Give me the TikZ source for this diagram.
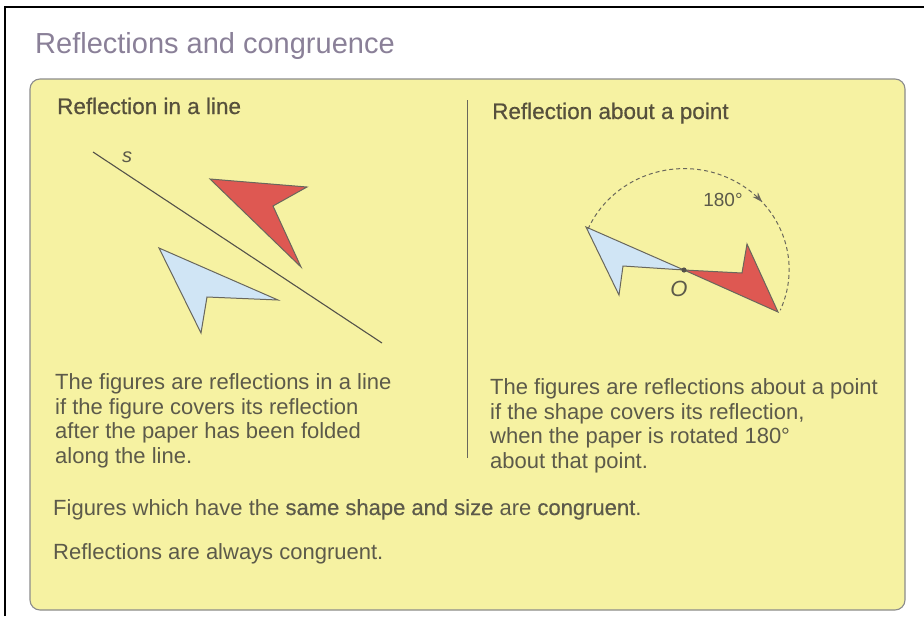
\documentclass[tikz,border=0pt]{standalone}
\usepackage{fontspec}
\setmainfont{Liberation Sans}
\newfontfamily\medfont[FakeBold=0.5]{Liberation Sans}
\usetikzlibrary{arrows.meta,decorations.markings}

\definecolor{panelyellow}{RGB}{246,242,162}
\definecolor{titlegrey}{RGB}{138,128,152}
\definecolor{headbrown}{RGB}{86,80,60}
\definecolor{textgrey}{RGB}{92,90,74}
\definecolor{figred}{RGB}{222,88,82}
\definecolor{figblue}{RGB}{208,229,245}
\definecolor{edgegrey}{RGB}{105,103,92}

\begin{document}
\begin{tikzpicture}[x=1pt,y=-1pt,
    panel/.style={draw=black!45,fill=panelyellow,rounded corners=10pt,line width=1.1pt},
    heading/.style={anchor=base west,inner sep=0pt,text=headbrown,
                    font=\medfont\fontsize{22.5}{26}\selectfont},
    body/.style={anchor=base west,inner sep=0pt,text=textgrey,align=left,
                 font=\fontsize{22}{24.5}\selectfont},
    fig/.style={draw=edgegrey,line width=1pt,line join=miter},
    mirror/.style={draw=edgegrey!80!black,line width=1.1pt},
    turn/.style={draw=edgegrey,line width=1pt,dash pattern=on 4pt off 3pt,
                 decoration={markings,mark=at position 0.64 with
                   {\arrow[solid]{Stealth[length=10pt,width=7pt]}}},
                 postaction=decorate}
  ]
    \useasboundingbox (0,0) rectangle (924,616);
    \fill[white] (0,0) rectangle (924,616);

    % frame and panel
    \draw[line width=2.2pt] (5,616) -- (5,7) -- (924,7);
    \draw[panel] (30,79) rectangle (905,610);
    \draw[edgegrey,line width=1pt] (467,100) -- (467,458);

    \node[anchor=base west,inner sep=0pt,text=titlegrey,
          font=\fontsize{29}{32}\selectfont] (title) at (35,53)
      {Reflections and congruence};

    \node[heading] (lefthead) at (57,114) {Reflection in a line};
    \node[heading] (righthead) at (492,119) {Reflection about a point};

    % reflection in a line
    \coordinate (s1) at (93,152);
    \coordinate (s2) at (382,343);
    \draw[mirror] (s1) -- (s2);
    \node[text=textgrey,font=\itshape\fontsize{20}{22}\selectfont] (slabel) at (127,157) {s};

    \draw[fig,fill=figred] (210,179) -- (307,187) -- (273,206) -- (301,267) -- cycle;
    \draw[fig,fill=figblue] (159,248) -- (278,300) -- (207,297) -- (201,333) -- cycle;

    % reflection about a point
    \coordinate (O) at (684,270);
    \draw[fig,fill=figblue] (586,227) -- (O) -- (623,266) -- (619,295) -- cycle;
    \draw[fig,fill=figred] (778,312) -- (O) -- (742,273) -- (747,244) -- cycle;
    \fill[edgegrey!80!black] (O) circle (2.6pt);
    \node[text=textgrey,font=\itshape\fontsize{22}{24}\selectfont] (olabel) at (679,289) {O};

    \coordinate (arcstart) at (588,229);
    \draw[turn] (arcstart) arc[start angle=203.7,end angle=383.7,x radius=105,y radius=101];
    \node[text=textgrey,font=\fontsize{19}{21}\selectfont] (angle) at (723,200) {180°};

    % explanations (base = last line)
    \node[body] (lefttext) at (55,463)
      {The figures are reflections in a line\\
       if the figure covers its reflection\\
       after the paper has been folded\\
       along the line.};
    \node[body] (righttext) at (490,468)
      {The figures are reflections about a point\\
       if the shape covers its reflection,\\
       when the paper is rotated 180°\\
       about that point.};

    \node[body] (congruent) at (53,515)
      {Figures which have the {\medfont same shape and size} are {\medfont congruent}.};
    \node[body] (always) at (53,559) {Reflections are always congruent.};
  \end{tikzpicture}
\end{document}
